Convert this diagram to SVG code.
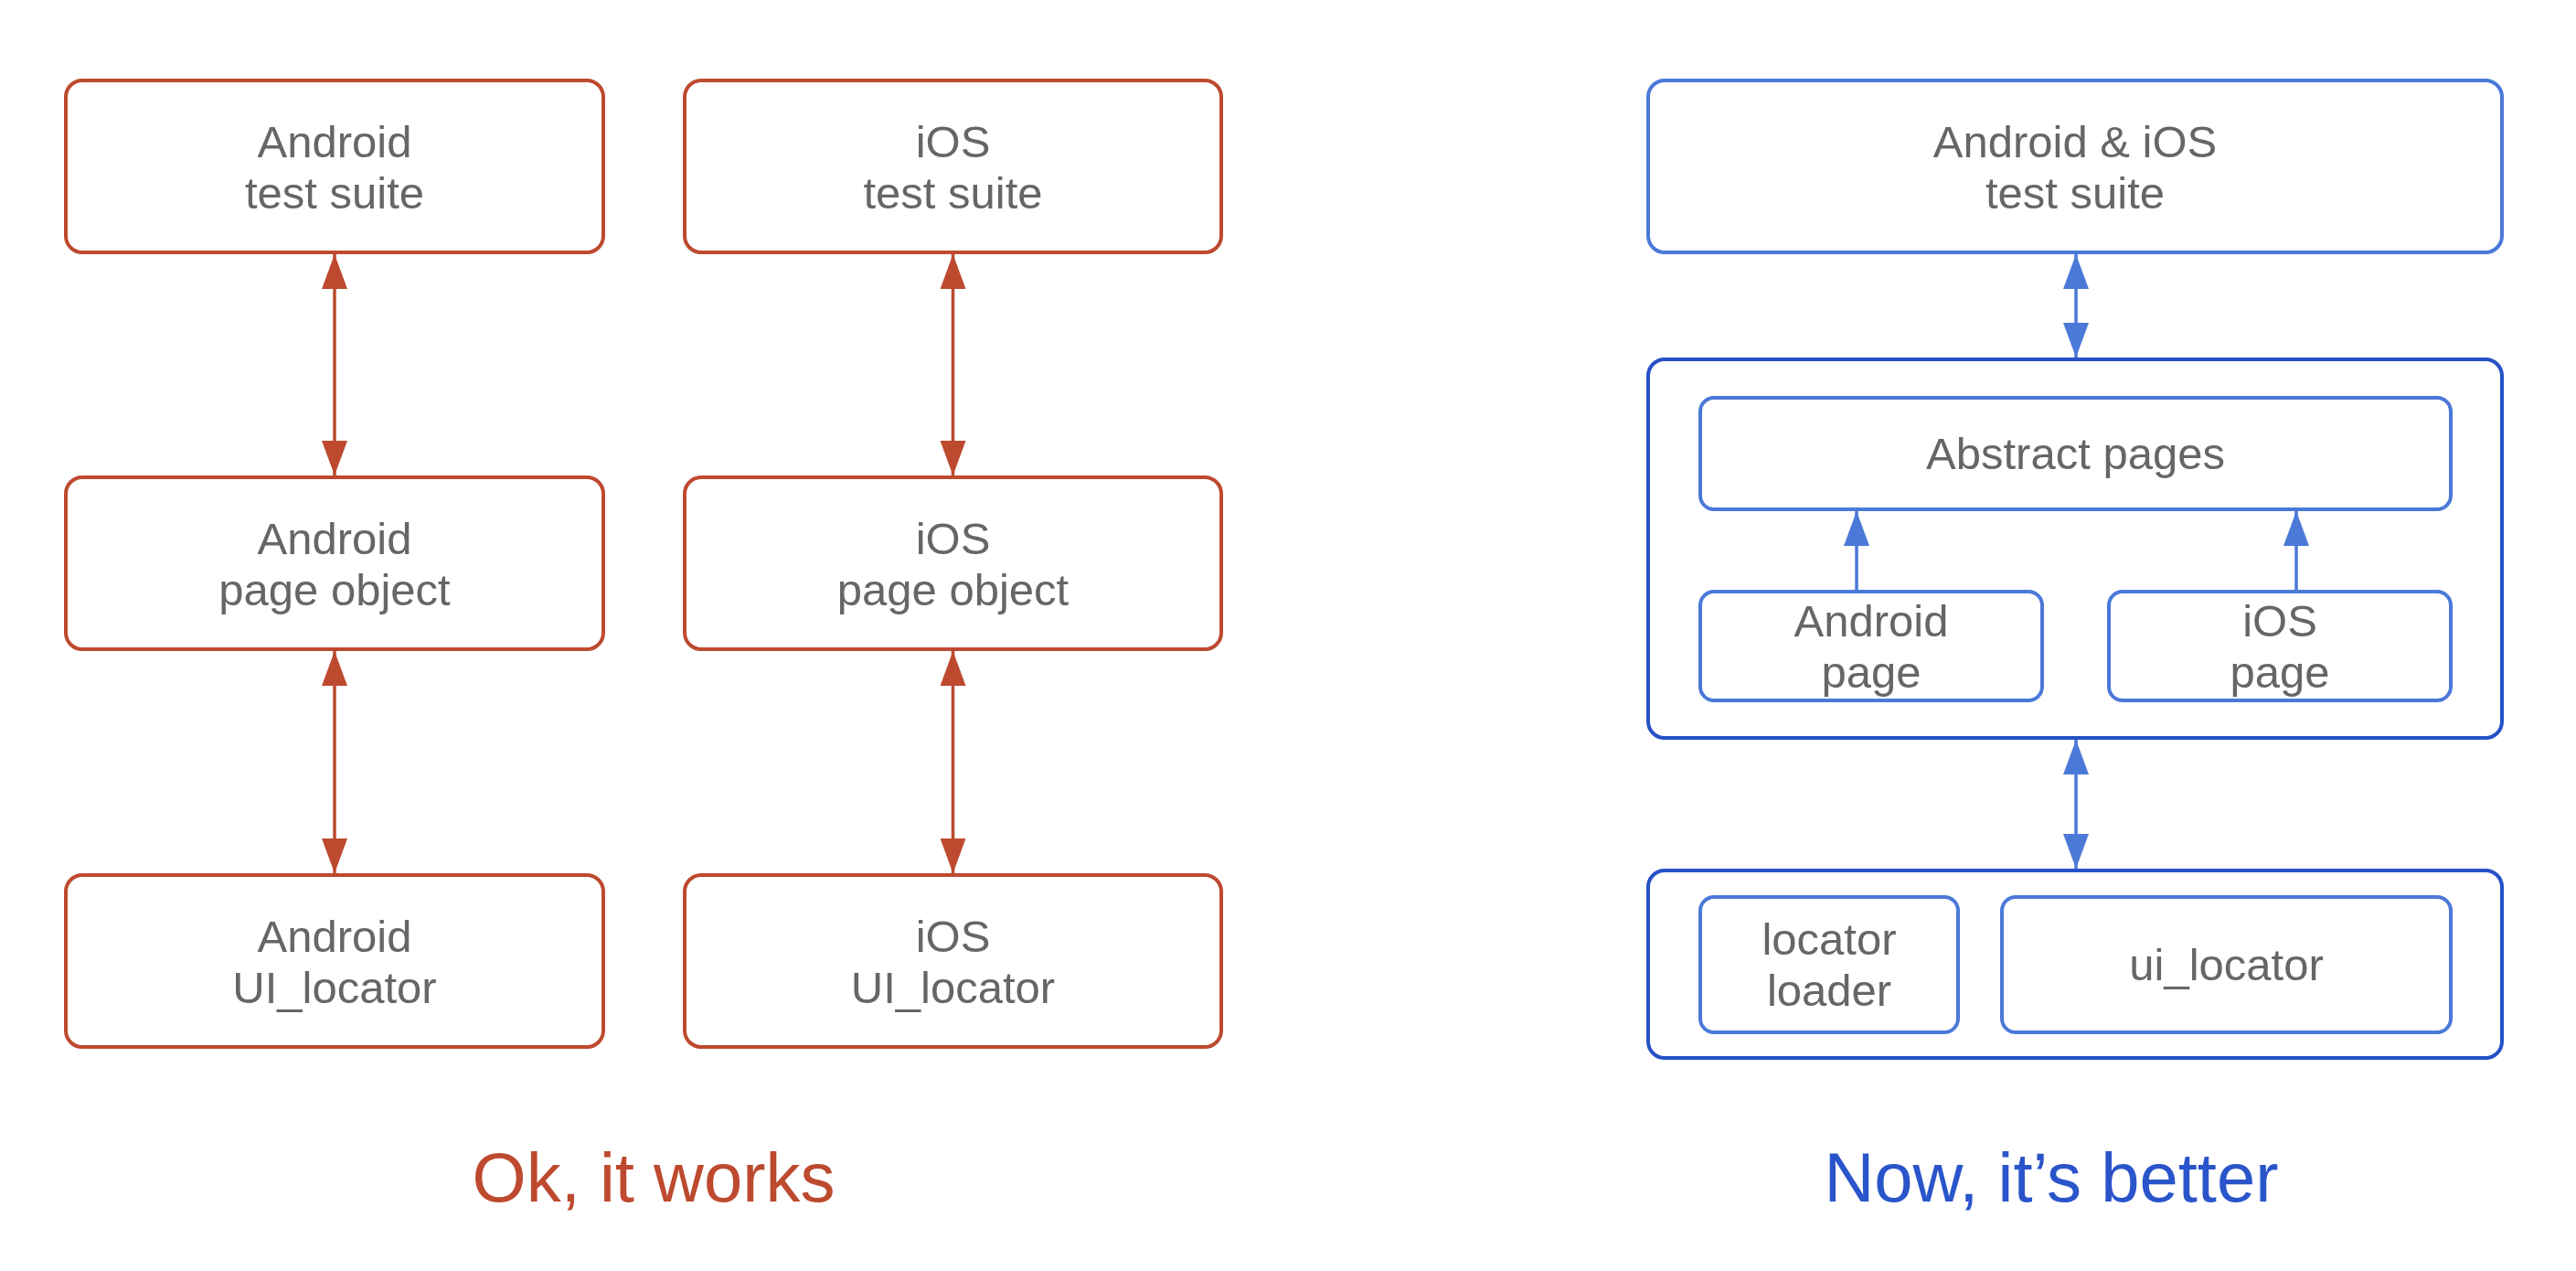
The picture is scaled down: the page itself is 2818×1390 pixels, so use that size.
<svg xmlns="http://www.w3.org/2000/svg" width="2818" height="1390" viewBox="0 0 2818 1390">
<style>
.bg{fill:#ffffff}
.rust{fill:#ffffff;stroke:#BD4A2F;stroke-width:4}
.lb{fill:#ffffff;stroke:#4B79D8;stroke-width:4}
.db{fill:#ffffff;stroke:#2651C6;stroke-width:4}
.lbl{font-family:"Liberation Sans",Arial,Helvetica,sans-serif;font-size:49px;fill:#666666;text-anchor:middle}
.title{font-family:"Liberation Sans",Arial,Helvetica,sans-serif;font-size:76px;text-anchor:middle}
.cr{stroke:#BD4A2F;stroke-width:3.5;fill:none}
.cb{stroke:#4B79D8;stroke-width:3.5;fill:none}
</style>
<defs>
<marker id="ar" markerUnits="userSpaceOnUse" markerWidth="38" markerHeight="28" refX="38" refY="14" orient="auto-start-reverse" viewBox="0 0 38 28">
<path d="M0,0 L38,14 L0,28 z" fill="#BD4A2F"/>
</marker>
<marker id="ab" markerUnits="userSpaceOnUse" markerWidth="38" markerHeight="28" refX="38" refY="14" orient="auto-start-reverse" viewBox="0 0 38 28">
<path d="M0,0 L38,14 L0,28 z" fill="#4B79D8"/>
</marker>
</defs>
<rect class="bg" x="0" y="0" width="2818" height="1390"/>

<g id="android-test-suite">
<rect class="rust" x="72" y="88" width="588" height="188" rx="18"/>
<text class="lbl" x="366" y="172">Android</text>
<text class="lbl" x="366" y="228">test suite</text>
</g>
<g id="ios-test-suite">
<rect class="rust" x="749" y="88" width="587" height="188" rx="18"/>
<text class="lbl" x="1042.5" y="172">iOS</text>
<text class="lbl" x="1042.5" y="228">test suite</text>
</g>
<g id="android-page-object">
<rect class="rust" x="72" y="522" width="588" height="188" rx="18"/>
<text class="lbl" x="366" y="606">Android</text>
<text class="lbl" x="366" y="662">page object</text>
</g>
<g id="ios-page-object">
<rect class="rust" x="749" y="522" width="587" height="188" rx="18"/>
<text class="lbl" x="1042.5" y="606">iOS</text>
<text class="lbl" x="1042.5" y="662">page object</text>
</g>
<g id="android-ui-locator">
<rect class="rust" x="72" y="957" width="588" height="188" rx="18"/>
<text class="lbl" x="366" y="1041">Android</text>
<text class="lbl" x="366" y="1097">UI_locator</text>
</g>
<g id="ios-ui-locator">
<rect class="rust" x="749" y="957" width="587" height="188" rx="18"/>
<text class="lbl" x="1042.5" y="1041">iOS</text>
<text class="lbl" x="1042.5" y="1097">UI_locator</text>
</g>

<g id="combined-test-suite">
<rect class="lb" x="1803" y="88" width="934" height="188" rx="18"/>
<text class="lbl" x="2270" y="172">Android &amp; iOS</text>
<text class="lbl" x="2270" y="228">test suite</text>
</g>
<g id="pages-layer">
<rect class="db" x="1803" y="393" width="934" height="414" rx="18"/>
</g>
<g id="abstract-pages">
<rect class="lb" x="1860" y="435" width="821" height="122" rx="15"/>
<text class="lbl" x="2270.5" y="513">Abstract pages</text>
</g>
<g id="android-page">
<rect class="lb" x="1860" y="647" width="374" height="119" rx="15"/>
<text class="lbl" x="2047" y="696">Android</text>
<text class="lbl" x="2047" y="752">page</text>
</g>
<g id="ios-page">
<rect class="lb" x="2307" y="647" width="374" height="119" rx="15"/>
<text class="lbl" x="2494" y="696">iOS</text>
<text class="lbl" x="2494" y="752">page</text>
</g>
<g id="locator-layer">
<rect class="db" x="1803" y="952" width="934" height="205" rx="18"/>
</g>
<g id="locator-loader">
<rect class="lb" x="1860" y="981" width="282" height="148" rx="15"/>
<text class="lbl" x="2001" y="1044">locator</text>
<text class="lbl" x="2001" y="1100">loader</text>
</g>
<g id="ui-locator">
<rect class="lb" x="2190" y="981" width="491" height="148" rx="15"/>
<text class="lbl" x="2435.5" y="1072">ui_locator</text>
</g>

<g id="connectors">
<line class="cr" x1="366" y1="278" x2="366" y2="520" marker-start="url(#ar)" marker-end="url(#ar)"/>
<line class="cr" x1="366" y1="712" x2="366" y2="955" marker-start="url(#ar)" marker-end="url(#ar)"/>
<line class="cr" x1="1042.5" y1="278" x2="1042.5" y2="520" marker-start="url(#ar)" marker-end="url(#ar)"/>
<line class="cr" x1="1042.5" y1="712" x2="1042.5" y2="955" marker-start="url(#ar)" marker-end="url(#ar)"/>
<line class="cb" x1="2271" y1="278" x2="2271" y2="391" marker-start="url(#ab)" marker-end="url(#ab)"/>
<line class="cb" x1="2271" y1="809" x2="2271" y2="950" marker-start="url(#ab)" marker-end="url(#ab)"/>
<line class="cb" x1="2031" y1="645" x2="2031" y2="559" marker-end="url(#ab)"/>
<line class="cb" x1="2512" y1="645" x2="2512" y2="559" marker-end="url(#ab)"/>
</g>

<g id="titles">
<text class="title" x="715" y="1314" fill="#BD4A2F">Ok, it works</text>
<text class="title" x="2244" y="1314" fill="#2A55CA">Now, it’s better</text>
</g>
</svg>
